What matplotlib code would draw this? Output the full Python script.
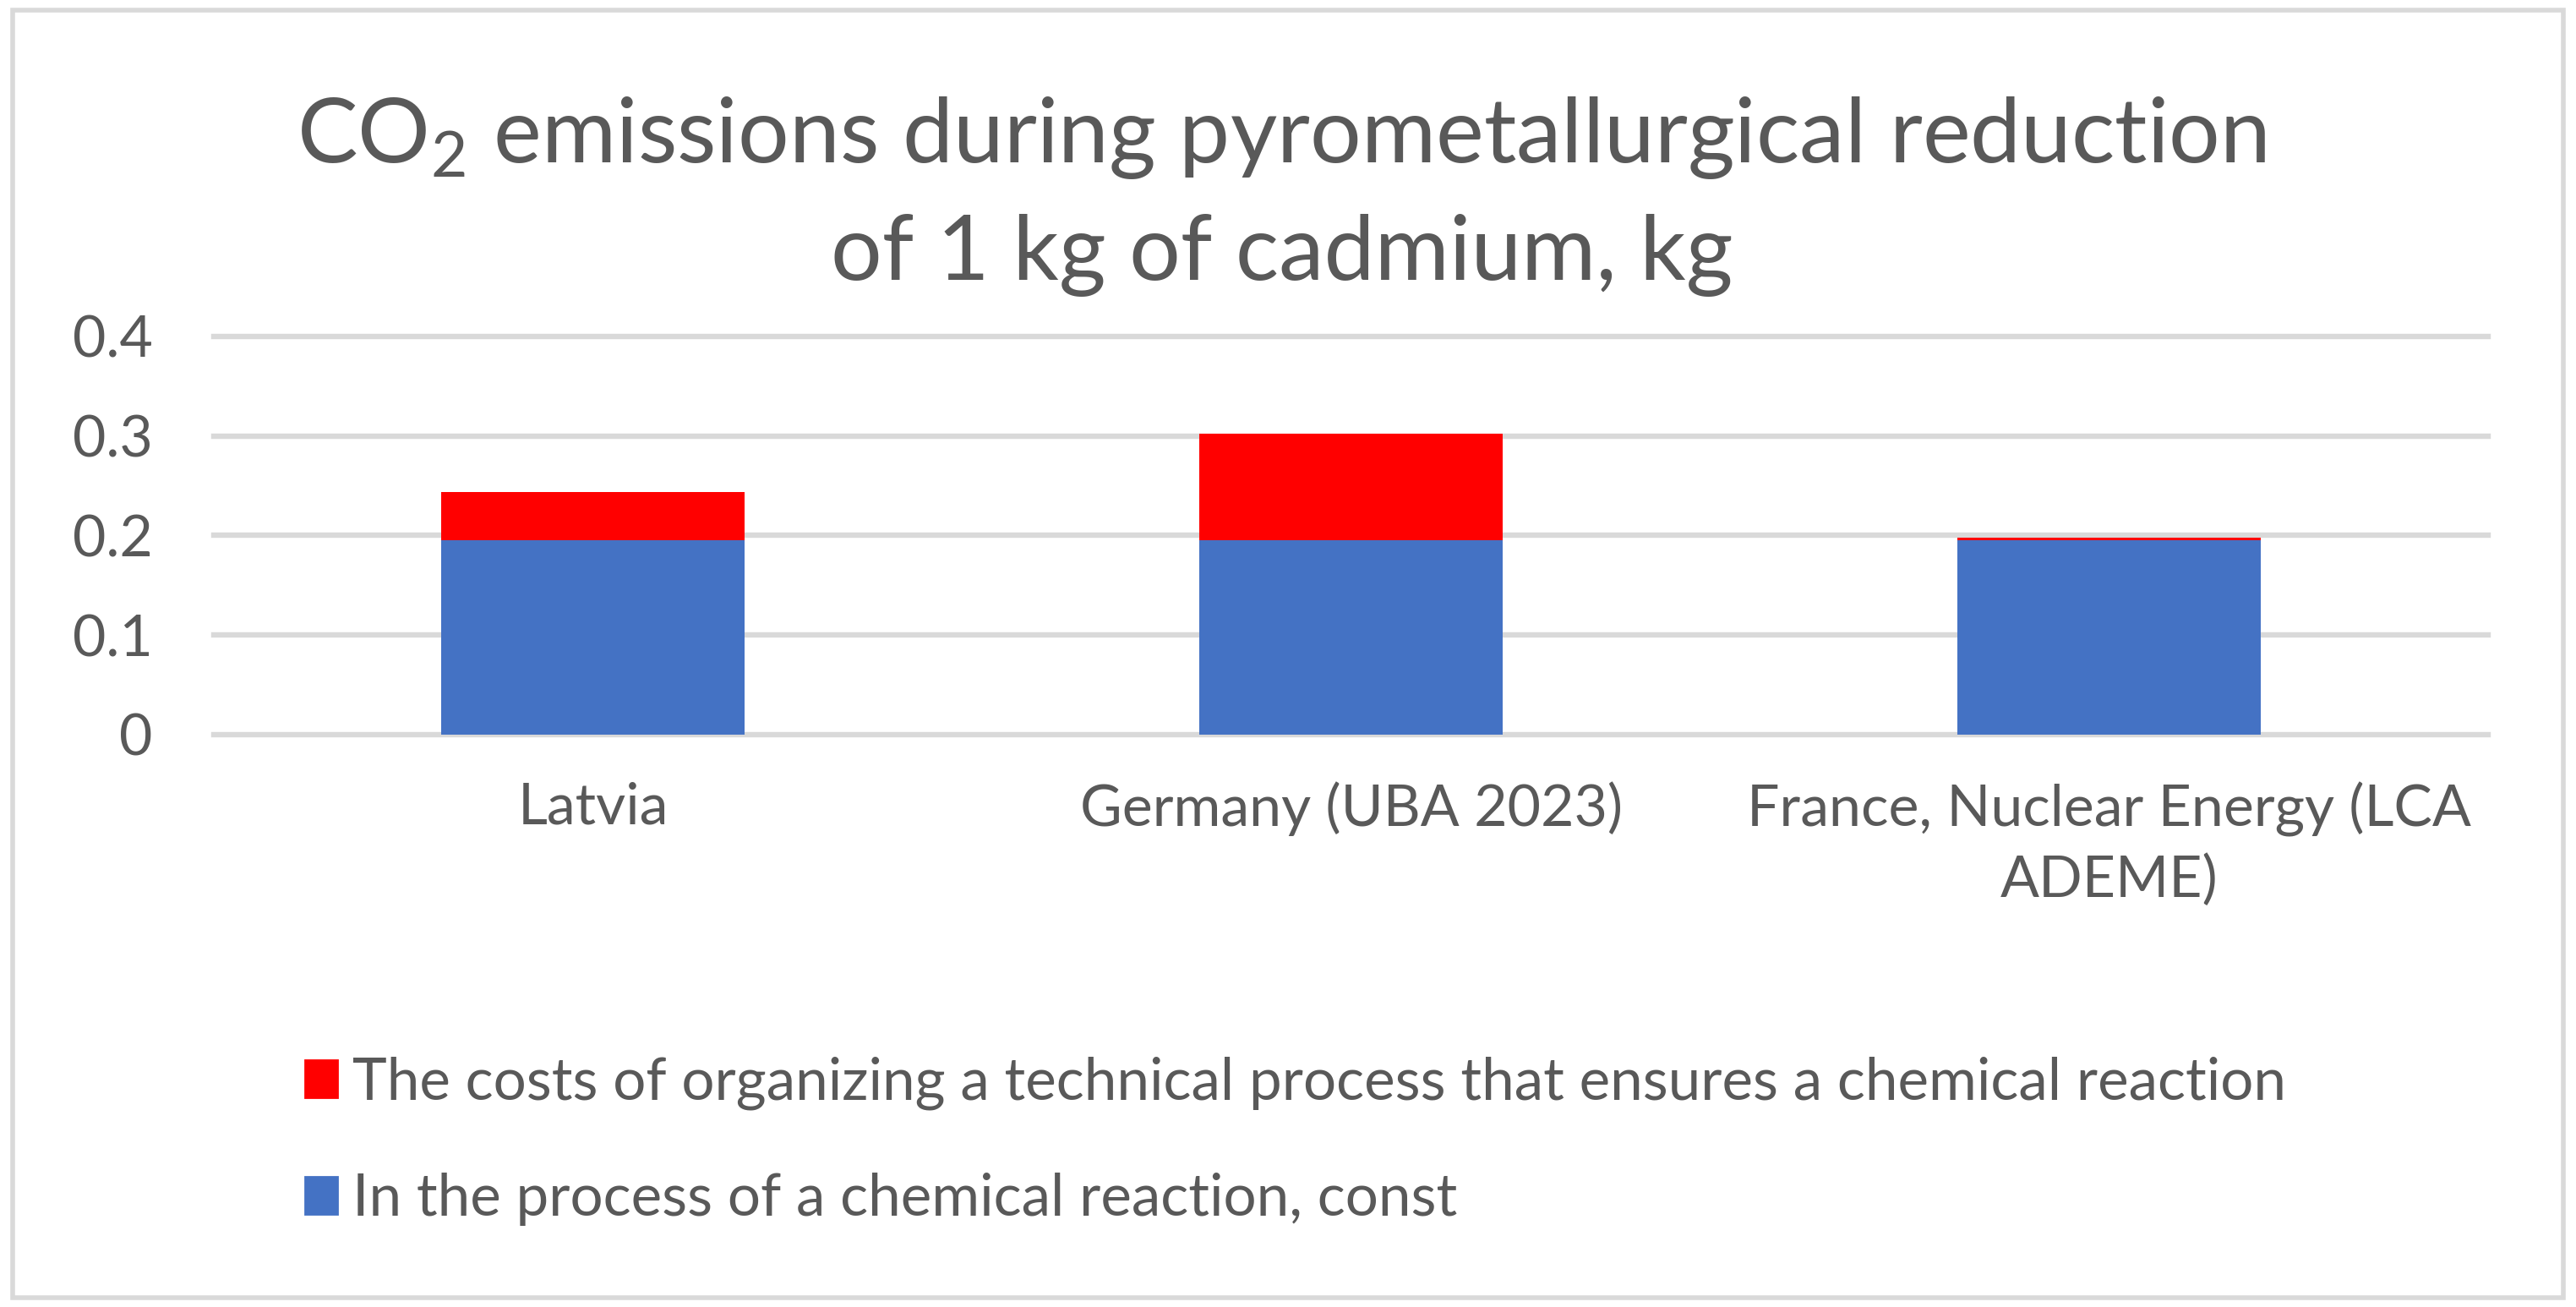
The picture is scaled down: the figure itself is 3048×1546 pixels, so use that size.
import matplotlib.pyplot as plt
from matplotlib.patches import Patch, Rectangle
import numpy as np

plt.rcParams['font.family'] = ['Lato', 'DejaVu Sans']
plt.rcParams['mathtext.fontset'] = 'custom'
plt.rcParams['mathtext.rm'] = 'Lato'

categories = ['Latvia', 'Germany (UBA 2023)', 'France, Nuclear Energy (LCA\nADEME)']
reaction = [0.195, 0.195, 0.195]       # In the process of a chemical reaction, const
process = [0.049, 0.107, 0.0025]       # costs of organizing a technical process
yticks = [0, 0.1, 0.2, 0.3, 0.4]
ytick_labels = ['0', '0.1', '0.2', '0.3', '0.4']

label_reaction = 'In the process of a chemical reaction, const'
label_process = 'The costs of organizing a technical process that ensures a chemical reaction'

text_col = '#595959'
grid_col = '#d9d9d9'
blue = '#4472C4'
red = '#FF0000'

fig = plt.figure(figsize=(15.24, 7.73), dpi=200)
ax = fig.add_axes([0.083, 0.438, 0.883, 0.3046])

x = np.arange(len(categories))
ax.bar(x, reaction, width=0.4, color=blue, zorder=3)
ax.bar(x, process, width=0.4, bottom=reaction, color=red, zorder=3)

ax.set_xlim(-0.5, 2.5)
ax.set_ylim(0, 0.4)
ax.set_yticks(yticks)
ax.set_yticklabels(ytick_labels)
ax.set_xticks(x)
ax.set_xticklabels(categories)
ax.tick_params(axis='both', length=0, labelsize=24.5, colors=text_col)
ax.tick_params(axis='y', pad=26)
ax.tick_params(axis='x', pad=20)
for lab in ax.get_xticklabels():
    lab.set_linespacing(1.4)
ax.grid(axis='y', color=grid_col, linewidth=2.3, zorder=0)
for s in ax.spines.values():
    s.set_visible(False)
ax.set_axisbelow(True)
ax.yaxis.grid(True, clip_on=False)

fig.text(0.4975, 0.85, 'CO$_{\\mathregular{2}}$ emissions during pyrometallurgical reduction\nof 1 kg of cadmium, kg',
         ha='center', va='center', fontsize=38.6, color=text_col, linespacing=1.5)

handles = [Patch(color=red), Patch(color=blue)]
fig.legend(handles, [label_process, label_reaction], loc='upper left',
           bbox_to_anchor=(0.1095, 0.21), bbox_transform=fig.transFigure,
           frameon=False, fontsize=24.9, labelcolor=text_col,
           handlelength=0.55, handleheight=0.6, handletextpad=0.25,
           labelspacing=1.08, borderaxespad=0)

fig.patches.append(Rectangle((0.005, 0.007), 0.99, 0.985, transform=fig.transFigure,
                             fill=False, edgecolor=grid_col, linewidth=2))

fig.savefig('out.png', dpi=200)
